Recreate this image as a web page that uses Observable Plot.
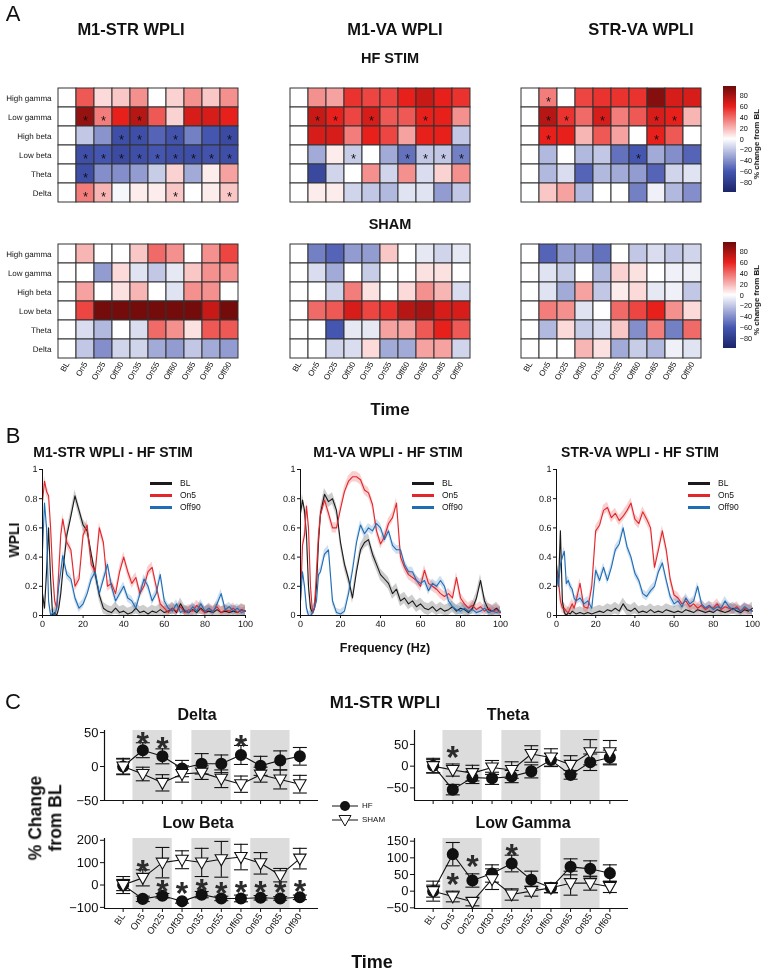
<!DOCTYPE html>
<html><head><meta charset="utf-8">
<script src="https://cdn.jsdelivr.net/npm/d3@7"></script>
<script src="https://cdn.jsdelivr.net/npm/@observablehq/plot@0.6"></script>
<style>
body{margin:0;background:#fff;}
#root{position:relative;width:763px;height:975px;overflow:hidden;background:#fff;}
.pw{position:absolute;line-height:0;will-change:transform;}
.tx{position:absolute;white-space:nowrap;line-height:1;will-change:transform;}
svg text{text-rendering:geometricPrecision;}
</style></head><body><div id="root"></div><script>
// ---------------- DATA ----------------
const timePoints = ["BL","On5","On25","Off30","On35","On55","Off60","On65","On85","Off90"];
const bandNames = ["High gamma","Low gamma","High beta","Low beta","Theta","Delta"];

// Panel A: % change from BL (rows = bandNames, cols = timePoints)
const hfM1Str = [
 [0,45,10,15,30,0,12,30,15,30],
 [0,85,35,60,75,45,12,65,65,60],
 [0,-20,-38,-65,-65,-55,-62,-45,-60,-68],
 [0,-65,-60,-68,-65,-60,-65,-65,-62,-65],
 [0,-65,-40,-40,-35,-18,12,-30,5,25],
 [0,35,20,-3,5,5,15,0,5,15]];
const hfM1StrStars = [[],[1,2,4],[3,4,6,9],[1,2,3,4,5,6,7,8,9],[1],[1,2,6,9]];
const hfM1Va = [
 [0,30,25,55,50,50,60,70,60,55],
 [0,70,60,50,65,45,45,60,60,30],
 [0,65,65,35,60,50,25,60,60,-20],
 [0,-30,5,-18,0,-30,-50,-20,-20,-45],
 [0,-70,-15,0,30,-15,30,-12,12,30],
 [0,5,5,-15,-20,-25,-10,-10,-35,-20]];
const hfM1VaStars = [[],[1,2,4,7],[],[3,6,7,8,9],[],[]];
const hfStrVa = [
 [0,35,0,50,55,55,55,90,65,65],
 [0,75,55,40,65,35,45,65,60,20],
 [0,60,60,20,45,25,0,60,45,0],
 [0,-25,0,-25,-20,-50,-60,-30,-40,-55],
 [0,-25,-12,-55,-25,-30,-35,-55,-15,-10],
 [0,15,25,-25,0,0,-45,-5,-25,-40]];
const hfStrVaStars = [[1],[1,2,4,7,8],[1,7],[6],[],[]];
const shamM1Str = [
 [0,20,0,0,15,40,30,0,30,50],
 [0,0,-35,10,-10,-20,-8,15,30,30],
 [0,25,0,8,20,0,-10,30,30,0],
 [0,50,95,95,95,95,95,95,70,95],
 [0,-12,-25,0,-12,40,30,8,45,45],
 [0,-20,-40,-15,-15,-30,-35,-20,-30,-35]];
const shamM1Va = [
 [0,-45,-55,-35,-35,15,0,-8,-15,-8],
 [0,-12,-30,0,-18,0,0,8,8,0],
 [0,0,-15,35,8,0,10,30,20,-12],
 [0,40,45,65,50,55,75,80,65,65],
 [0,0,-60,-8,-8,25,25,45,60,45],
 [0,0,-15,-12,10,-30,-30,25,25,-15]];
const shamStrVa = [
 [0,-55,-35,-35,-50,0,-20,-12,-20,-15],
 [0,-10,-18,0,-25,12,8,0,-5,-5],
 [0,-10,-30,25,-20,5,10,-8,-5,-20],
 [0,35,30,-10,0,40,50,60,30,10],
 [0,-25,10,-18,-12,15,-40,35,-45,40],
 [0,0,0,20,8,-30,-18,-25,-5,-10]];
const noStars = [[],[],[],[],[],[]];
const colorbarTicks = [-80,-60,-40,-20,0,20,40,60,80];

// Panel B: WPLI spectra
const freq = [0,1,2,3,4,5,6,7,8,9,10,12,14,16,18,20,22,24,26,28,30,32,34,36,38,40,42,44,46,48,50,52,54,56,58,60,62,64,66,68,70,72,74,76,78,80,82,84,86,88,90,92,94,96,98,100];
const seriesNames = ["BL","On5","Off90"];
const seriesSem = [0.04,0.035,0.03];
const m1StrBL   = [0.15,0.05,0.30,0.60,0.25,0.00,0.02,0.00,0.05,0.15,0.30,0.55,0.68,0.82,0.72,0.62,0.58,0.42,0.28,0.14,0.05,0.03,0.02,0.05,0.02,0.03,0.01,0.02,0.05,0.02,0.03,0.01,0.03,0.02,0.04,0.02,0.03,0.05,0.02,0.08,0.03,0.02,0.04,0.02,0.05,0.02,0.03,0.02,0.04,0.02,0.03,0.02,0.03,0.02,0.04,0.03];
const m1StrOn5  = [0.78,0.92,0.85,0.82,0.60,0.30,0.10,0.05,0.30,0.55,0.66,0.50,0.45,0.20,0.25,0.55,0.62,0.35,0.30,0.60,0.50,0.20,0.22,0.15,0.30,0.40,0.30,0.22,0.26,0.15,0.20,0.30,0.33,0.20,0.08,0.05,0.02,0.05,0.03,0.06,0.02,0.04,0.03,0.07,0.04,0.02,0.05,0.03,0.06,0.02,0.04,0.03,0.05,0.02,0.04,0.03];
const m1StrOff90= [0.45,0.77,0.60,0.10,0.00,0.02,0.00,0.05,0.20,0.30,0.41,0.28,0.25,0.12,0.05,0.08,0.15,0.25,0.30,0.15,0.25,0.35,0.20,0.10,0.15,0.20,0.12,0.10,0.05,0.15,0.25,0.20,0.10,0.15,0.28,0.10,0.05,0.03,0.08,0.02,0.04,0.02,0.06,0.03,0.08,0.03,0.05,0.02,0.08,0.15,0.04,0.06,0.03,0.05,0.02,0.03];
const m1VaBL    = [0.70,0.79,0.72,0.55,0.20,0.05,0.02,0.05,0.20,0.50,0.70,0.83,0.78,0.80,0.72,0.50,0.35,0.25,0.12,0.30,0.45,0.50,0.52,0.42,0.35,0.28,0.25,0.22,0.15,0.18,0.10,0.12,0.08,0.10,0.06,0.08,0.05,0.04,0.06,0.03,0.05,0.03,0.04,0.06,0.03,0.05,0.04,0.02,0.05,0.12,0.24,0.10,0.04,0.03,0.05,0.02];
const m1VaOn5   = [0.10,0.48,0.55,0.75,0.60,0.20,0.02,0.05,0.30,0.55,0.69,0.79,0.70,0.60,0.60,0.73,0.85,0.92,0.95,0.95,0.93,0.86,0.84,0.76,0.58,0.49,0.54,0.63,0.67,0.77,0.40,0.33,0.28,0.26,0.24,0.20,0.31,0.22,0.20,0.18,0.15,0.13,0.15,0.12,0.26,0.12,0.08,0.05,0.07,0.04,0.06,0.03,0.05,0.03,0.04,0.02];
const m1VaOff90 = [0.10,0.30,0.20,0.05,0.00,0.00,0.02,0.05,0.10,0.28,0.30,0.42,0.45,0.10,0.02,0.01,0.03,0.15,0.31,0.50,0.62,0.56,0.60,0.58,0.63,0.60,0.52,0.58,0.48,0.45,0.45,0.35,0.30,0.30,0.24,0.22,0.24,0.17,0.22,0.20,0.24,0.20,0.10,0.06,0.04,0.03,0.05,0.03,0.04,0.02,0.03,0.05,0.02,0.03,0.02,0.03];
const strVaBL   = [0.35,0.20,0.58,0.10,0.02,0.00,0.02,0.01,0.03,0.02,0.01,0.02,0.01,0.02,0.01,0.02,0.03,0.02,0.04,0.03,0.05,0.03,0.08,0.04,0.03,0.05,0.02,0.03,0.02,0.04,0.02,0.03,0.02,0.04,0.03,0.02,0.03,0.02,0.04,0.03,0.02,0.04,0.03,0.02,0.03,0.02,0.04,0.03,0.02,0.03,0.05,0.03,0.02,0.04,0.03,0.05];
const strVaOn5  = [0.30,0.25,0.10,0.05,0.05,0.03,0.02,0.05,0.08,0.05,0.10,0.22,0.06,0.05,0.20,0.58,0.62,0.72,0.74,0.67,0.70,0.65,0.68,0.72,0.77,0.66,0.63,0.71,0.66,0.60,0.33,0.45,0.58,0.45,0.25,0.14,0.12,0.08,0.10,0.06,0.08,0.05,0.07,0.04,0.06,0.05,0.08,0.04,0.06,0.05,0.04,0.06,0.03,0.05,0.04,0.03];
const strVaOff90= [0.30,0.20,0.35,0.40,0.44,0.22,0.24,0.20,0.18,0.12,0.10,0.12,0.08,0.10,0.05,0.31,0.24,0.33,0.24,0.33,0.45,0.49,0.60,0.47,0.40,0.29,0.24,0.15,0.13,0.17,0.20,0.30,0.36,0.24,0.13,0.08,0.10,0.06,0.12,0.08,0.10,0.20,0.08,0.05,0.07,0.04,0.06,0.05,0.10,0.06,0.04,0.05,0.03,0.06,0.04,0.03];
const wpliTicks = [0,0.2,0.4,0.6,0.8,1];
const freqTicks = [0,20,40,60,80,100];

// Panel C: % change from BL, mean and SEM
const cLabels = ["BL","On5","On25","Off30","On35","On55","Off60","On65","On85","Off90"];
const cLabelsGamma = ["BL","On5","On25","Off30","On35","On55","Off60","On65","On85","Off60"];
const stimBlocks = [[1,2],[4,5],[7,8]];
const deltaHF = [0,24,15,-3,4,4,17,1,9,15];
const deltaHFErr = [11,11,11,12,15,13,14,14,14,13];
const deltaSham = [0,-11,-24,-11,-9,-18,-26,-12,-19,-26];
const deltaShamErr = [12,10,12,12,10,13,12,11,14,13];
const deltaStars = [[1,46],[2,38],[6,41]];
const thetaHF = [1,-54,-26,-28,-24,-12,14,-20,9,20];
const thetaHFErr = [17,12,14,14,14,15,15,10,19,17];
const thetaSham = [0,-9,-16,-3,-9,28,20,3,32,32];
const thetaShamErr = [15,14,18,16,19,19,20,21,29,27];
const thetaStars = [[1,40]];
const lowBetaHF = [0,-62,-48,-73,-43,-60,-60,-57,-60,-55];
const lowBetaHFErr = [25,12,10,8,14,10,15,10,8,10];
const lowBetaSham = [0,32,100,113,101,115,125,97,44,118];
const lowBetaShamErr = [38,36,68,40,63,80,57,48,30,46];
const lowBetaStars = [[1,96],[2,10],[3,-2],[4,12],[5,-2],[6,2],[7,2],[8,2],[9,6]];
const lowGammaHF = [0,111,32,53,83,34,10,73,67,54];
const lowGammaHFErr = [30,35,20,26,25,26,15,24,24,25];
const lowGammaSham = [0,-16,-32,36,-10,0,10,24,24,13];
const lowGammaShamErr = [18,16,12,31,17,15,14,36,21,17];
const lowGammaStars = [[1,45],[2,98],[4,133]];

// ---------------- HELPERS ----------------
const FONT = '"Liberation Sans", Arial, Helvetica, sans-serif';
const INK = "#111111";
const root = document.getElementById("root");
function place(el, left, top) {
  const w = document.createElement("div");
  w.className = "pw";
  w.style.left = left + "px"; w.style.top = top + "px";
  w.appendChild(el); root.appendChild(w);
}
function txt(s, cx, cy, size, weight = "bold", rot = 0, anchor = "middle") {
  const d = document.createElement("div");
  d.className = "tx";
  d.textContent = s;
  const tx = anchor === "middle" ? "-50%" : anchor === "start" ? "0%" : "-100%";
  d.style.left = cx + "px"; d.style.top = cy + "px";
  d.style.fontFamily = FONT; d.style.fontWeight = weight; d.style.fontSize = size + "px"; d.style.color = INK;
  d.style.transform = `translate(${tx},-50%) rotate(${rot}deg)`;
  root.appendChild(d);
}
const baseStyle = {fontFamily: FONT, fontSize: "8px", background: "none", overflow: "visible", color: INK};
const colorScale = {type: "linear", domain: [-98,-60,0,60,98], range: ["#1b2468","#4556b0","#ffffff","#e8201c","#6a0a0a"], clamp: true};

// ---------------- PANEL A ----------------
function heatmap(values, stars, gridLeft, gridTop, rowLabels, timeLabels) {
  const cells = [];
  bandNames.forEach((b, i) => timePoints.forEach((t, j) => cells.push({band: b, time: t, v: values[i][j], star: stars[i].includes(j)})));
  const mL = rowLabels ? 55 : 4, mT = 4, mR = 4, mB = timeLabels ? 44 : 4;
  const gw = 185, gh = 117;
  const p = Plot.plot({
    width: mL + gw + mR, height: mT + gh + mB,
    marginLeft: mL, marginTop: mT, marginRight: mR, marginBottom: mB,
    style: baseStyle,
    x: {domain: timePoints, padding: 0},
    y: {domain: bandNames, padding: 0},
    color: colorScale,
    marks: [
      Plot.cell(cells, {x: "time", y: "band", fill: "v", stroke: "#333", strokeWidth: 1, inset: 0}),
      Plot.text(cells.filter(d => d.star), {x: "time", y: "band", text: () => "*", fontSize: 13, dy: 3.5, fill: INK}),
      Plot.axisY({tickSize: 0, tickPadding: 4, tickFormat: rowLabels ? (d => d) : (() => ""), label: null, fontSize: 8, fill: INK}),
      Plot.axisX({tickSize: 0, tickPadding: 3, tickRotate: -60, tickFormat: timeLabels ? (d => d) : (() => ""), label: null, fontSize: 8, fill: INK})
    ]
  });
  place(p, gridLeft - mL, gridTop - mT);
}
function colorbar(left, top) {
  const steps = d3.range(-98, 98, 0.5);
  const p = Plot.plot({
    width: 14 + 30, height: 117 + 8, marginLeft: 0, marginRight: 30, marginTop: 4, marginBottom: 4,
    style: baseStyle,
    x: {domain: [0, 1], axis: null}, y: {domain: [-98, 98], axis: null},
    color: colorScale,
    marks: [
      Plot.rect(steps, {x1: 0, x2: 1, y1: d => d, y2: d => Math.min(98, d + 1), fill: d => d + 0.25, shapeRendering: "crispEdges"}),
      Plot.axisY(colorbarTicks, {anchor: "right", tickSize: 0, tickPadding: 4, label: null, fontSize: 8, fill: INK})
    ]
  });
  place(p, left, top - 4);
  txt("% change from BL", left + 34, top + 58, 8, "bold", -90);
}

txt("A", 13, 14, 22, "normal");
txt("M1-STR WPLI", 131, 29, 16.5);
txt("M1-VA WPLI", 395, 29, 16.5);
txt("STR-VA WPLI", 641, 29, 16.5);
txt("HF STIM", 390, 58, 14.5);
txt("SHAM", 390, 224, 14.5);
heatmap(hfM1Str, hfM1StrStars, 55, 86, true, false);
heatmap(hfM1Va, hfM1VaStars, 287, 86, false, false);
heatmap(hfStrVa, hfStrVaStars, 518, 86, false, false);
heatmap(shamM1Str, noStars, 55, 242, true, true);
heatmap(shamM1Va, noStars, 287, 242, false, true);
heatmap(shamStrVa, noStars, 518, 242, false, true);
colorbar(723, 86);
colorbar(723, 242);
txt("Time", 390, 409, 17);

// ---------------- PANEL B ----------------
const seriesColors = ["#1a1a1a", "#e3262b", "#1f6db5"];
function spectrum(series, axisLeft, axisRight, title, titleX, legendX) {
  const mL = 30, mT = 6, mR = 8, mB = 24;
  const gw = axisRight - axisLeft, gh = 146;
  const marks = [];
  series.forEach((vals, k) => {
    const rows = freq.map((f, i) => ({f, v: vals[i], lo: Math.max(0, vals[i] - seriesSem[k]), hi: vals[i] + seriesSem[k]}));
    marks.push(Plot.areaY(rows, {x: "f", y1: "lo", y2: "hi", fill: seriesColors[k], fillOpacity: 0.22}));
  });
  series.forEach((vals, k) => {
    const rows = freq.map((f, i) => ({f, v: vals[i]}));
    marks.push(Plot.line(rows, {x: "f", y: "v", stroke: seriesColors[k], strokeWidth: 1.1}));
  });
  marks.push(Plot.ruleX([0], {strokeWidth: 1}));
  marks.push(Plot.ruleY([0], {strokeWidth: 1}));
  marks.push(Plot.axisY({ticks: wpliTicks, tickFormat: d => String(d), tickSize: 3, tickPadding: 2, label: null, fontSize: 9, fill: INK}));
  marks.push(Plot.axisX({ticks: freqTicks, tickSize: 3, tickPadding: 2, label: null, fontSize: 9, fill: INK}));
  const p = Plot.plot({
    width: mL + gw + mR, height: mT + gh + mB, marginLeft: mL, marginTop: mT, marginRight: mR, marginBottom: mB,
    style: baseStyle, x: {domain: [0, 100]}, y: {domain: [0, 1]}, marks
  });
  place(p, axisLeft - mL, 469 - mT);
  txt(title, titleX, 452, 14);
  seriesNames.forEach((n, k) => {
    const ln = document.createElement("div");
    ln.style.cssText = `position:absolute;left:${legendX}px;top:${483 + k * 12 - 1.5}px;width:22px;height:3px;background:${seriesColors[k]}`;
    root.appendChild(ln);
    txt(n, legendX + 30, 483 + k * 12, 8.5, "normal", 0, "start");
  });
}
txt("B", 13, 436, 22, "normal");
spectrum([m1StrBL, m1StrOn5, m1StrOff90], 42, 245, "M1-STR WPLI - HF STIM", 113, 150);
spectrum([m1VaBL, m1VaOn5, m1VaOff90], 300, 500, "M1-VA WPLI - HF STIM", 388, 412);
spectrum([strVaBL, strVaOn5, strVaOff90], 556, 752, "STR-VA WPLI - HF STIM", 640, 688);
txt("WPLI", 14, 540, 14, "bold", -90);
txt("Frequency (Hz)", 385, 648, 12.5);

// ---------------- PANEL C ----------------
const capSym = {draw(ctx) { ctx.moveTo(-7, 0); ctx.lineTo(7, 0); }};
const triDown = {draw(ctx) { ctx.moveTo(-6.2, -4.5); ctx.lineTo(6.2, -4.5); ctx.lineTo(0, 6.5); ctx.closePath(); }};
function timecourse(cfg) {
  const {axisLeft, top, yDomain, yTicks, hf, hfErr, sham, shamErr, stars, labels, title, titleX} = cfg;
  const mL = 40, mT = 4, mR = 4, mB = labels ? 42 : 6;
  const gw = 214, gh = 70;
  const xDomain = [-0.95, 9.95];
  const rowsHF = hf.map((v, i) => ({i, v, lo: v - hfErr[i], hi: v + hfErr[i]}));
  const rowsSh = sham.map((v, i) => ({i, v, lo: v - shamErr[i], hi: v + shamErr[i]}));
  const st = stars.map(([i, y]) => ({i, y}));
  const K = INK;
  const p = Plot.plot({
    width: mL + gw + mR, height: mT + gh + mB, marginLeft: mL, marginTop: mT, marginRight: mR, marginBottom: mB,
    style: {...baseStyle, fontSize: "13px"},
    x: {domain: xDomain}, y: {domain: yDomain},
    marks: [
      Plot.rect(stimBlocks, {x1: d => d[0] - 0.5, x2: d => d[1] + 0.5, y1: yDomain[0], y2: yDomain[1], fill: "#dcdcdc"}),
      Plot.ruleX(rowsHF, {x: "i", y1: "lo", y2: "hi", stroke: K, strokeWidth: 1.1}),
      Plot.dot(rowsHF, {x: "i", y: "lo", symbol: capSym, stroke: K, strokeWidth: 1.1}),
      Plot.dot(rowsHF, {x: "i", y: "hi", symbol: capSym, stroke: K, strokeWidth: 1.1}),
      Plot.ruleX(rowsSh, {x: "i", y1: "lo", y2: "hi", stroke: K, strokeWidth: 1.1}),
      Plot.dot(rowsSh, {x: "i", y: "lo", symbol: capSym, stroke: K, strokeWidth: 1.1}),
      Plot.dot(rowsSh, {x: "i", y: "hi", symbol: capSym, stroke: K, strokeWidth: 1.1}),
      Plot.line(rowsHF, {x: "i", y: "v", stroke: K, strokeWidth: 1.1}),
      Plot.line(rowsSh, {x: "i", y: "v", stroke: K, strokeWidth: 1.1}),
      Plot.dot(rowsHF, {x: "i", y: "v", r: 5.3, fill: K, stroke: K}),
      Plot.dot(rowsSh, {x: "i", y: "v", symbol: triDown, fill: "white", stroke: K, strokeWidth: 1.1}),
      Plot.text(st, {x: "i", y: "y", text: () => "*", fontSize: 32, fontWeight: "bold", dy: 8.5, fill: "#2b2b2b"}),
      Plot.ruleX([xDomain[0]], {strokeWidth: 1.2}),
      Plot.ruleY([yDomain[0]], {strokeWidth: 1.2}),
      Plot.axisY({ticks: yTicks, tickSize: 4, tickPadding: 2, label: null, fontSize: 13, fill: INK}),
      Plot.axisX({ticks: d3.range(10), tickSize: 4, tickPadding: 2, tickRotate: -55, tickFormat: labels ? (i => labels[i]) : (() => ""), label: null, fontSize: 9.5, fill: INK})
    ]
  });
  place(p, axisLeft - mL, top - mT);
  txt(title, titleX, top - 15, 16);
}
txt("C", 13, 702, 22, "normal");
txt("M1-STR WPLI", 385, 702, 17);
timecourse({axisLeft: 104, top: 730, yDomain: [-50, 53], yTicks: [-50, 0, 50], hf: deltaHF, hfErr: deltaHFErr, sham: deltaSham, shamErr: deltaShamErr, stars: deltaStars, labels: null, title: "Delta", titleX: 197});
timecourse({axisLeft: 414, top: 730, yDomain: [-79, 82], yTicks: [-50, 0, 50], hf: thetaHF, hfErr: thetaHFErr, sham: thetaSham, shamErr: thetaShamErr, stars: thetaStars, labels: null, title: "Theta", titleX: 508});
timecourse({axisLeft: 104, top: 838, yDomain: [-105, 208], yTicks: [-100, 0, 100, 200], hf: lowBetaHF, hfErr: lowBetaHFErr, sham: lowBetaSham, shamErr: lowBetaShamErr, stars: lowBetaStars, labels: cLabels, title: "Low Beta", titleX: 198});
timecourse({axisLeft: 414, top: 838, yDomain: [-52, 158], yTicks: [-50, 0, 50, 100, 150], hf: lowGammaHF, hfErr: lowGammaHFErr, sham: lowGammaSham, shamErr: lowGammaShamErr, stars: lowGammaStars, labels: cLabelsGamma, title: "Low Gamma", titleX: 523});
txt("% Change", 36, 818, 17.5, "bold", -90);
txt("from BL", 56, 818, 17.5, "bold", -90);
txt("Time", 372, 962, 18);
// HF / SHAM legend
(function () {
  const ns = "http://www.w3.org/2000/svg";
  const svg = document.createElementNS(ns, "svg");
  svg.setAttribute("width", "30"); svg.setAttribute("height", "30");
  svg.innerHTML = '<line x1="1" y1="6" x2="27" y2="6" stroke="#111"/><circle cx="14" cy="6" r="5" fill="#111"/>' +
    '<line x1="1" y1="20" x2="27" y2="20" stroke="#111"/><path d="M8,15.5L20,15.5L14,26Z" fill="#fff" stroke="#111"/>';
  place(svg, 331, 800);
  txt("HF", 362, 806, 8, "normal", 0, "start");
  txt("SHAM", 362, 820, 8, "normal", 0, "start");
})();
</script></body></html>
